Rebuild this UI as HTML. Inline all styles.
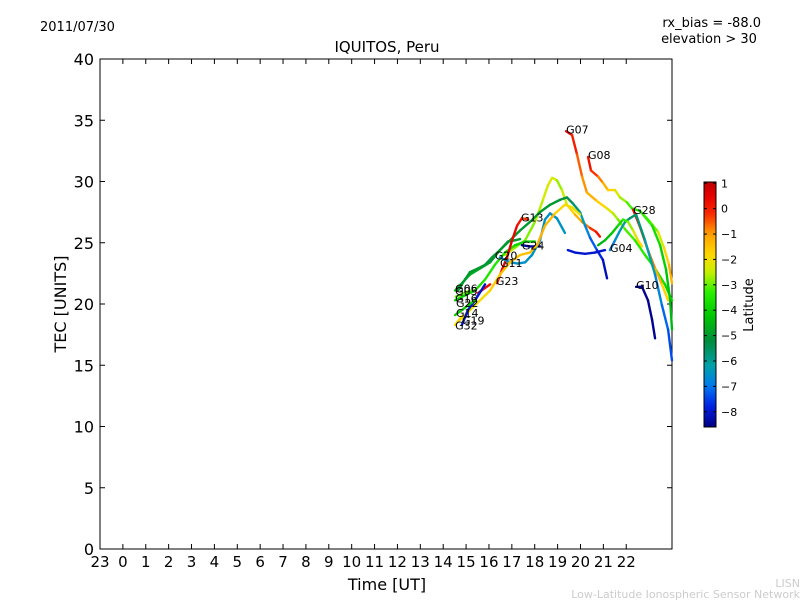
<!DOCTYPE html>
<html><head><meta charset="utf-8"><style>
body{margin:0;background:#fff;width:800px;height:600px;overflow:hidden}
svg{font-family:"DejaVu Sans","Liberation Sans",sans-serif}
</style></head><body>
<svg id="chart" width="800" height="600" xmlns="http://www.w3.org/2000/svg">
<rect width="800" height="600" fill="#fff"/>
<text x="40" y="31" font-size="13">2011/07/30</text>
<text x="761" y="27" font-size="13" text-anchor="end">rx_bias = -88.0</text>
<text x="709" y="43" font-size="13" text-anchor="middle">elevation &gt; 30</text>
<text x="387" y="52" font-size="15" text-anchor="middle">IQUITOS, Peru</text>
<text transform="translate(66,304) rotate(-90)" font-size="16" text-anchor="middle">TEC [UNITS]</text>
<text x="387" y="590" font-size="16" text-anchor="middle">Time [UT]</text>
<text x="800" y="587" font-size="11" fill="#ccc" text-anchor="end">LISN</text>
<text x="800" y="598" font-size="11" fill="#ccc" text-anchor="end">Low-Latitude Ionospheric Sensor Network</text>
<g id="axes"></g>
<g id="tracks"></g>
<g id="labels"></g>
<g id="cbar"></g>
</svg>
<script>
const xTicks=[-1,0,1,2,3,4,5,6,7,8,9,10,11,12,13,14,15,16,17,18,19,20,21,22];
const xTickLabels=["23","0","1","2","3","4","5","6","7","8","9","10","11","12","13","14","15","16","17","18","19","20","21","22"];
const yTicks=[0,5,10,15,20,25,30,35,40];
const cbTicks=[1,0,-1,-2,-3,-4,-5,-6,-7,-8];
const latMin=-8.6, latMax=1.05;
const trackNames=["G07","G08","G28","G28b","YG","PK","G04","G04b","G10","GF","G05","G20","G13","G24","G11","YO","G23","G19","G32","G14","G16"];
const trackTimes=[
[19.37,19.63,19.85,20.07,20.28,20.72,21.16,21.42,21.64,21.95,22.38,22.82,23.26,23.69,24.0],
[20.33,20.46,20.77,20.98,21.20,21.51,21.73,22.03,22.25,22.60,23.04,23.39,23.65,23.87,24.0],
[22.30,22.60,22.95,23.26,23.56,23.83],
[22.73,23.13,23.48,23.74,23.92,24.0],
[16.70,17.14,17.58,18.01,18.36,18.58,18.76,18.97,19.19,19.41,19.76,20.07,20.42,20.68,20.85],
[14.52,15.17,15.61,16.05,16.48,16.92,17.36,17.79,18.23,18.67,19.10,19.41,19.67,19.98,20.20,20.42,20.72,20.98,21.16],
[21.29,21.51,21.73,21.95,22.16,22.43,22.82,23.26,23.56,23.83,24.0],
[19.45,19.76,20.20,20.63,21.07],
[22.43,22.69,22.95,23.13,23.26],
[20.77,21.07,21.38,21.64,21.86,22.08,22.30,22.51,22.69],
[14.65,14.95,15.17,15.52,15.83,16.13,16.48,16.83,17.14,17.36],
[14.52,14.95,15.39,15.83,16.26,16.70,17.14,17.58,18.01],
[16.35,16.57,16.79,17.01,17.23,17.44,17.71],
[17.44,17.79,18.23],
[16.48,16.92,17.27,17.58,17.88,18.23,18.45,18.67,18.97,19.32],
[14.73,15.17,15.61,16.05,16.48,16.92,17.36,17.79,18.10,18.45,18.89,19.32,19.63,19.98],
[15.52,16.05],
[14.82,15.08,15.39,15.83],
[14.52,14.82],
[14.52,14.95,15.39],
[14.56,15.17]];
const trackTec=[
[34.1,33.8,32.2,30.4,29.1,28.4,27.8,27.4,26.9,26.1,25.2,24.0,22.9,21.6,20.3],
[32.0,30.9,30.4,29.9,29.3,29.3,28.7,28.3,27.8,27.6,26.7,25.9,24.6,23.2,21.7],
[27.7,26.3,24.4,22.9,21.6,20.3],
[27.3,26.4,24.8,22.8,20.3,17.9],
[24.0,24.6,25.2,26.7,28.5,29.7,30.3,30.1,29.3,28.1,27.3,26.7,26.2,25.9,25.5],
[21.1,22.4,22.9,23.4,24.4,25.2,26.0,26.7,27.5,28.1,28.5,28.7,28.2,27.5,26.4,25.4,24.4,23.6,22.1],
[24.4,25.2,26.0,26.7,27.0,27.3,25.2,22.4,19.9,17.9,15.4],
[24.4,24.2,24.1,24.2,24.4],
[21.4,21.4,20.3,18.7,17.2],
[24.8,25.2,25.8,26.4,26.9,26.7,26.0,25.2,24.7],
[21.1,22.0,22.6,22.9,23.2,23.8,24.4,25.1,25.2,25.3],
[20.3,20.7,21.1,22.0,23.2,24.2,24.8,25.1,25.1],
[21.7,22.8,23.8,25.2,26.4,27.0,26.9],
[24.8,24.7,24.7],
[23.8,23.4,23.3,23.4,24.0,25.2,26.9,27.4,27.0,25.8],
[18.7,19.5,20.3,21.1,22.4,23.4,24.0,24.2,24.8,26.4,27.4,28.1,27.9,27.3],
[20.9,21.6],
[18.3,19.5,20.3,21.6],
[18.3,19.0],
[19.1,19.7,20.3],
[20.6,21.1]];
const trackLat=[
[0.5,0.3,-0.3,-0.8,-1,-1.5,-2,-2.5,-2.8,-3,-3.3,-3.5,-3.5,-3.8,-4],
[0.3,0,-0.5,-1,-1.5,-2,-2.5,-3,-3.3,-3.5,-3.3,-2.5,-2,-1.5,-1],
[0.5,0,-0.5,-1,-1.5,-2],
[-3,-3.5,-4,-4,-4.5,-4.5],
[-2.5,-2.7,-3,-2.7,-2.5,-2.3,-2.2,-2.5,-3,-2,-1.5,-1,-0.5,0,0.3],
[-4.5,-4.5,-4.7,-5,-5,-5,-5,-5,-5,-5,-5,-5.2,-5.5,-6,-6.5,-7,-7.5,-8,-8.3],
[-7,-6.7,-6.3,-6,-5.7,-5.5,-6,-6.5,-7,-7.3,-7.5],
[-8,-8,-8,-8,-8],
[-8.5,-8.5,-8.5,-8.5,-8.5],
[-4.5,-4.5,-4.2,-4,-3.5,-3,-2.5,-2,-1.5],
[-5,-5,-5,-5,-5,-5,-5,-5,-5,-5],
[-4,-4,-3.8,-3.5,-3.5,-3.5,-3.8,-4,-4],
[0,0.3,0.5,0.5,0.3,0,-0.5],
[-8.3,-8.3,-8.3],
[-6.5,-6.5,-6.5,-6.5,-6.5,-6.5,-6.5,-6.5,-6.5,-6.5],
[-2,-2,-2,-1.8,-1.5,-1.5,-1.5,-1.5,-1.3,-1.2,-1.5,-2,-2,-2],
[0.3,0.3],
[-8,-8,-8,-8],
[-1.8,-1.8],
[-4,-4,-4],
[-3,-3]];
const labelNames=["G07","G08","G28","G13","G24","G04","G20","G11","G23","G10","G06","G05","G16","G22","G14","G19","G32"];
const labelTimes=[19.37,20.33,22.30,17.40,17.44,21.29,16.26,16.48,16.30,22.43,14.52,14.52,14.52,14.56,14.56,14.82,14.52];
const labelTec=[34.1,32.0,27.5,26.9,24.6,24.4,23.8,23.2,21.7,21.4,21.1,20.9,20.3,19.9,19.1,18.5,18.1];

const NS="http://www.w3.org/2000/svg";
const L=100,R=672,T=59,B=549;
const X=t=>L+(t+1)/25*(R-L);
const Y=v=>B-v/40*(B-T);
function mk(tag,attrs,parent){const e=document.createElementNS(NS,tag);for(const k in attrs)e.setAttribute(k,attrs[k]);parent.appendChild(e);return e;}
// custom colormap: stops by latitude
const cmLat=[-8.6,-7.8,-7.0,-6.2,-5.2,-4.2,-3.3,-2.5,-1.8,-1.0,-0.2,0.5,1.05];
const cmCol=[[0,0,130],[0,30,230],[0,120,240],[0,160,170],[0,140,60],[0,200,0],[40,240,0],[200,240,0],[255,215,0],[255,160,0],[250,40,0],[230,0,0],[190,0,0]];
function cmap(l){
 if(l<=cmLat[0])return `rgb(${cmCol[0]})`;
 for(let i=0;i<cmLat.length-1;i++){
  if(l<=cmLat[i+1]){const f=(l-cmLat[i])/(cmLat[i+1]-cmLat[i]);
   const c=cmCol[i].map((v,j)=>Math.round(v+(cmCol[i+1][j]-v)*f));return `rgb(${c})`;}
 }
 return `rgb(${cmCol[cmCol.length-1]})`;
}
const ax=document.getElementById('axes');
xTicks.forEach((t,i)=>{
 const tk=mk('line',{x1:X(t),x2:X(t),y1:B,y2:B-5,stroke:'#000'},ax);
 
 
 const tt=mk('line',{x1:X(t),x2:X(t),y1:T,y2:T+5,stroke:'#000'},ax);
 
 
 const tx=mk('text',{x:X(t),y:B+18,'font-size':15,'text-anchor':'middle'},ax);
 tx.textContent=xTickLabels[i];
 
 
});
yTicks.forEach(v=>{
 const tk=mk('line',{x1:L,x2:L+5,y1:Y(v),y2:Y(v),stroke:'#000'},ax);
 
 
 const tr=mk('line',{x1:R,x2:R-5,y1:Y(v),y2:Y(v),stroke:'#000'},ax);
 
 
 const tx=mk('text',{x:L-6,y:Y(v)+6,'font-size':16,'text-anchor':'end'},ax);
 tx.textContent=String(v);
 
 
});
const frame=mk('rect',{x:L,y:T,width:R-L,height:B-T,fill:'none',stroke:'#000'},ax);


const tg=document.getElementById('tracks');
trackNames.forEach((n,k)=>{
 const g=mk('g',{},tg);
 
 
 const ts=trackTimes[k],vs=trackTec[k],ls=trackLat[k];
 for(let i=0;i<ts.length-1;i++){
  mk('line',{x1:X(ts[i]),y1:Y(vs[i]),x2:X(ts[i+1]),y2:Y(vs[i+1]),stroke:cmap((ls[i]+ls[i+1])/2),'stroke-width':2.4,'stroke-linecap':'round'},g);
 }
});
const lg=document.getElementById('labels');
labelNames.forEach((n,i)=>{
 const t=mk('text',{x:X(labelTimes[i]),y:Y(labelTec[i])+2,'font-size':11},lg);
 t.textContent=n;
 
 
});
const cb=document.getElementById('cbar');
const cT=182,cB=427,cL=704,cW=12;
const CY=l=>cB-(l-latMin)/(latMax-latMin)*(cB-cT);
const defs=mk('defs',{},cb);
const grad=mk('linearGradient',{id:'cmg',x1:0,y1:1,x2:0,y2:0},defs);
for(let i=0;i<=40;i++){const l=latMin+(latMax-latMin)*i/40;mk('stop',{offset:i/40,'stop-color':cmap(l)},grad);}
const bar=mk('rect',{x:cL,y:cT,width:cW,height:cB-cT,fill:'url(#cmg)',stroke:'#000'},cb);


cbTicks.forEach(l=>{
 mk('line',{x1:cL,x2:cL+3,y1:CY(l),y2:CY(l),stroke:'#000'},cb);
 mk('line',{x1:cL+cW,x2:cL+cW-3,y1:CY(l),y2:CY(l),stroke:'#000'},cb);
 const t=mk('text',{x:cL+cW+5,y:CY(l)+4,'font-size':11},cb);
 t.textContent=l<0?'\u2212'+(-l):String(l);
 
 
});
const ct=mk('text',{transform:`translate(753,305) rotate(-90)`,'font-size':13,'text-anchor':'middle'},cb);
ct.textContent='Latitude';


</script>
</body></html>
